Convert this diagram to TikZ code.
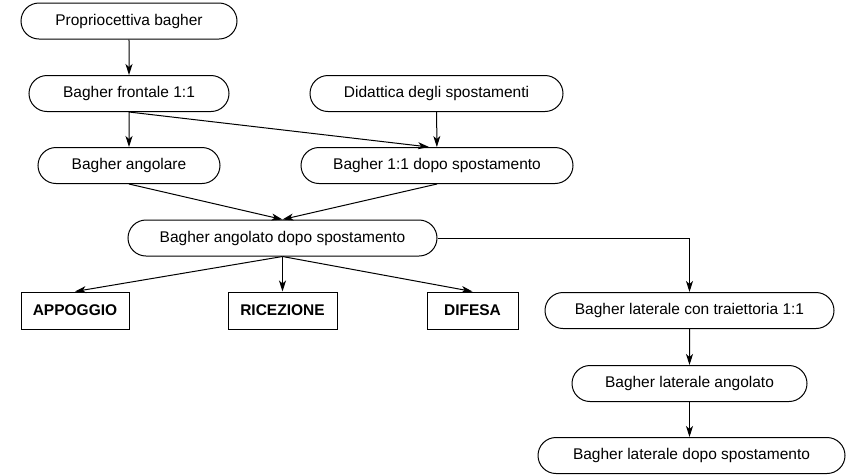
\documentclass[tikz,border=0pt]{standalone}
\usepackage{fontspec}
\setmainfont{Liberation Sans}
\usetikzlibrary{arrows.meta,shapes.misc}
\begin{document}
\begin{tikzpicture}[x=1pt,y=-1pt,
  every node/.style={font=\fontsize{15.5}{18}\selectfont, inner sep=0pt},
  stepround/.style={draw, line width=1pt, rounded rectangle, minimum height=36pt},
  stepbox/.style={draw, line width=1pt, rectangle, minimum height=37pt, font=\fontsize{15.5}{18}\selectfont\bfseries},
  link/.style={line width=1pt, -{Stealth[length=11pt,width=7pt,inset=3pt]}}]
\useasboundingbox (0,0) rectangle (847,475);
% upper column and side entry
\node[stepround, minimum width=216pt] (prop) at (129,21) {Propriocettiva bagher};
\node[stepround, minimum width=200pt] (front) at (129,93.5) {Bagher frontale 1:1};
\node[stepround, minimum width=182pt] (ang) at (129,165.5) {Bagher angolare};
\node[stepround, minimum width=253pt] (did) at (436.5,93.5) {Didattica degli spostamenti};
\node[stepround, minimum width=272pt] (b11) at (437,165.5) {Bagher 1:1 dopo spostamento};
\node[stepround, minimum width=309pt] (angsp) at (282.5,238) {Bagher angolato dopo spostamento};
% game situations
\node[stepbox, minimum width=108pt] (app) at (75,310.5) {APPOGGIO};
\node[stepbox, minimum width=109pt] (ric) at (282.5,310.5) {RICEZIONE};
\node[stepbox, minimum width=91pt] (dif) at (472.5,310.5) {DIFESA};
% lateral branch
\node[stepround, minimum width=289pt] (lat1) at (689.5,310.5) {Bagher laterale con traiettoria 1:1};
\node[stepround, minimum width=235pt] (lat2) at (689.5,383.5) {Bagher laterale angolato};
\node[stepround, minimum width=307pt] (lat3) at (691.5,455.5) {Bagher laterale dopo spostamento};
% connectors
\draw[link] (prop) -- (front);
\draw[link] (front) -- (ang);
\draw[link] (front.south) -- ([xshift=-8pt]b11.north);
\draw[link] (did) -- (b11);
\draw[link] (ang.south) -- (angsp.north);
\draw[link] (b11.south) -- (angsp.north);
\draw[link] (angsp.south) -- (app.north);
\draw[link] (angsp.south) -- (ric.north);
\draw[link] (angsp.south) -- (dif.north);
\draw[link] (angsp.east) -| (lat1.north);
\draw[link] (lat1) -- (lat2);
\draw[link] (lat2.south) -- (lat2.south |- lat3.north);
\end{tikzpicture}
\end{document}
